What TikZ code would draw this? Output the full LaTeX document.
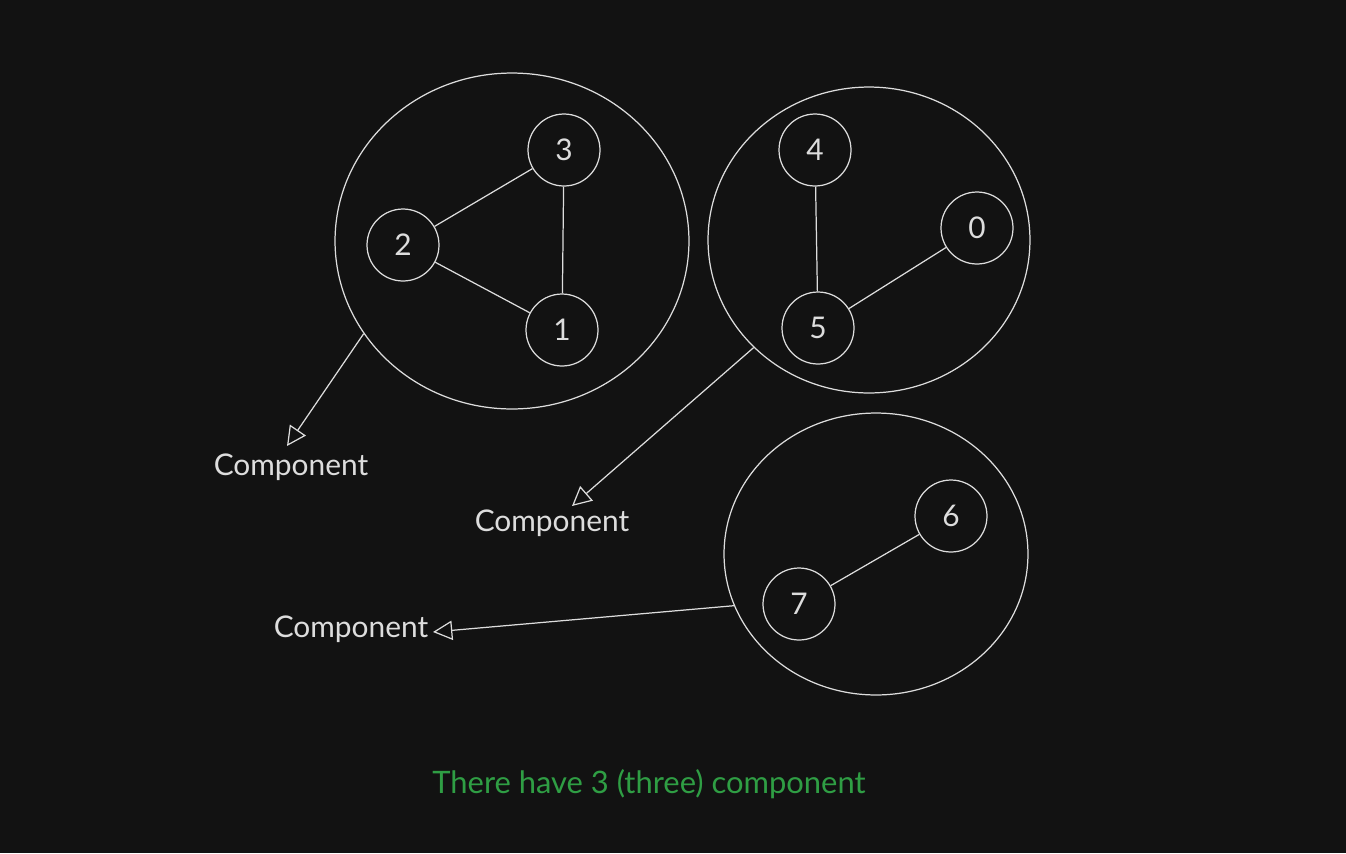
\documentclass[tikz,border=0pt]{standalone}
\usepackage{fontspec}
\setmainfont{Lato}
\usepackage{tikz}
\usetikzlibrary{shapes.geometric,arrows.meta}
\definecolor{bgdark}{HTML}{121212}
\definecolor{inkgray}{HTML}{DDDDDD}
\definecolor{notegreen}{HTML}{2F9E44}
\begin{document}
\begin{tikzpicture}[x=0.02cm, y=0.02cm]
\tikzstyle{every node}+=[inner sep=0pt, text=inkgray, font=\fontsize{17}{20}\selectfont]
\tikzstyle{vertex}=[draw=inkgray, line width=0.7pt, circle, minimum size=1.44cm]
\tikzstyle{group}=[draw=inkgray, line width=0.7pt, ellipse]
\tikzstyle{edge}=[draw=inkgray, line width=0.7pt]
\tikzstyle{pointer}=[draw=inkgray, line width=0.7pt, -{Triangle[open, length=11pt, width=11pt]}]
\fill [bgdark] (0,0) rectangle (1346,-853);
\useasboundingbox (0,0) rectangle (1346,-853);
% the three groups
\node [group, minimum width=7.08cm, minimum height=6.72cm] (gA) at (512,-241) {};
\node [group, minimum width=6.44cm, minimum height=6.12cm] (gB) at (869,-240) {};
\node [group, minimum width=6.08cm, minimum height=5.64cm] (gC) at (876,-554) {};
% vertices
\node [vertex] (v3) at (564,-150) {3};
\node [vertex] (v2) at (403,-245) {2};
\node [vertex] (v1) at (562,-330) {1};
\node [vertex] (v4) at (815,-150) {4};
\node [vertex] (v0) at (977,-228) {0};
\node [vertex] (v5) at (818,-328) {5};
\node [vertex] (v6) at (951,-516) {6};
\node [vertex] (v7) at (799,-604) {7};
\draw [edge] (v2) -- (v3);
\draw [edge] (v3) -- (v1);
\draw [edge] (v2) -- (v1);
\draw [edge] (v4) -- (v5);
\draw [edge] (v5) -- (v0);
\draw [edge] (v7) -- (v6);
% labels and pointers
\node (cA) at (291,-467) {Component};
\node (cB) at (552,-523) {Component};
\node (cC) at (351,-629) {Component};
\coordinate (tA) at (287,-446);
\coordinate (tB) at (572,-506);
\coordinate (tC) at (433,-632);
\draw [pointer] (gA.212) -- (tA);
\draw [pointer] (gB.223) -- (tB);
\draw [pointer] (gC.200) -- (tC);
\node [text=notegreen, font=\fontsize{17.6}{20}\selectfont] (note) at (649,-784) {There have 3 (three) component};
\end{tikzpicture}
\end{document}
